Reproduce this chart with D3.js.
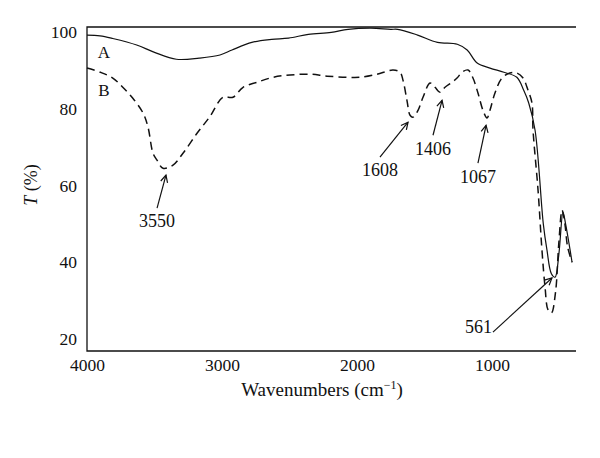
<!DOCTYPE html>
<html>
<head>
<meta charset="utf-8">
<script src="https://cdn.jsdelivr.net/npm/d3@7"></script>
<style>
  body { margin: 0; background: #fff; }
  svg { font-family: "Liberation Serif", "DejaVu Serif", serif; }
</style>
</head>
<body>
<div id="chart"></div>
<script>
// Spectrum A (solid) - wavenumber (cm-1) and transmittance (%)
const waveA = [4000, 3904, 3809, 3632, 3500, 3338, 3169, 3015, 2926, 2779, 2632, 2507, 2360, 2191, 2066, 1897,
  1750, 1699, 1551, 1404, 1257, 1184, 1110, 1015, 912, 816, 765, 728, 681, 620, 593, 560, 533, 505, 474, 455, 430, 407];
const transA = [99.2, 99.0, 98.3, 96.6, 94.7, 92.9, 93.2, 94.0, 95.3, 97.3, 98.1, 98.4, 99.4, 99.9, 100.7, 101.0,
  100.7, 100.7, 99.2, 97.3, 96.8, 95.3, 91.9, 90.6, 89.5, 88.2, 84.8, 81.5, 74.4, 50, 43.2, 37, 36.1, 42, 53, 50, 45, 40];

// Spectrum B (dashed)
const waveB = [4000, 3900, 3809, 3735, 3662, 3585, 3548, 3511, 3481, 3437, 3363, 3289, 3185, 3089, 2993, 2919,
  2844, 2741, 2622, 2496, 2348, 2222, 2074, 1978, 1852, 1733, 1681, 1659, 1630, 1607, 1585, 1548, 1511, 1459,
  1422, 1385, 1348, 1296, 1259, 1222, 1178, 1141, 1104, 1067, 1037, 1015, 978, 926, 867, 815, 770, 733, 704,
  696, 659, 630, 607, 585, 560, 530, 505, 481, 460, 440, 407];
const transB = [90.6, 89.5, 88.0, 85.6, 82.8, 78.9, 75.2, 68.4, 66.6, 64.5, 65.3, 68.4, 73.6, 78.0, 83.0, 83.0,
  85.6, 86.9, 88.2, 88.8, 89.0, 88.5, 88.2, 88.2, 89.0, 90.1, 89.5, 87.4, 82.2, 78.3, 77.8, 79.6, 83.0, 86.7,
  85.6, 84.3, 85.6, 86.9, 88.0, 89.5, 90.1, 88.0, 84.1, 79.6, 77.6, 79.6, 84.1, 88.0, 89.3, 89.3, 88.0, 84.8, 81.5,
  74.4, 58.8, 43.2, 33.5, 27.6, 26.8, 32, 45, 53.6, 50, 44, 40];

const xTicks = [4000, 3000, 2000, 1000];
const yTicks = [20, 40, 60, 80, 100];

// Curve names and where they sit
const seriesNames = ['A', 'B'];
const nameWave = [3875, 3875];
const nameT = [94.7, 84.8];

// Peak annotations: label, arrow tail and tip in data units
const peakLabels = ['3550', '1608', '1406', '1067', '561'];
const tailWave = [3481, 1830, 1437, 1104, 993];
const tailT = [54.1, 67.4, 73.1, 65.8, 21.8];
const tipWave = [3415, 1622, 1370, 1044, 556];
const tipT = [62.7, 76.5, 82.2, 75.7, 35.9];

const width = 600, height = 458;
const plot = { left: 87, right: 576, top: 27, bottom: 351 };

const svg = d3.select('#chart').append('svg')
  .attr('width', width)
  .attr('height', height);

const x = d3.scaleLinear().domain([4000, 400]).range([87, 573]);
const y = d3.scaleLinear().domain([20, 100]).range([339, 32]);

// Frame: left, bottom and top lines
svg.append('path')
  .attr('d', `M${plot.right},${plot.top}H${plot.left}V${plot.bottom}H${plot.right}`)
  .attr('fill', 'none')
  .attr('stroke', '#111')
  .attr('stroke-width', 1.3);

// Axes (labels only)
const xAxis = svg.append('g')
  .attr('transform', `translate(0,${plot.bottom})`)
  .call(d3.axisBottom(x).tickValues(xTicks).tickSize(0).tickPadding(8).tickFormat(d3.format('d')));
const yAxis = svg.append('g')
  .attr('transform', `translate(${plot.left},0)`)
  .call(d3.axisLeft(y).tickValues(yTicks).tickSize(0).tickPadding(10));
[xAxis, yAxis].forEach(g => {
  g.select('.domain').remove();
  g.selectAll('text')
    .attr('fill', '#111')
    .style('font-family', '"Liberation Serif", serif')
    .style('font-size', '17.5px');
});

// Axis titles
const xt = svg.append('text')
  .attr('x', 322)
  .attr('y', 396)
  .attr('text-anchor', 'middle')
  .attr('fill', '#111')
  .style('font-size', '19px');
xt.append('tspan').text('Wavenumbers (cm');
xt.append('tspan').attr('dy', -7).style('font-size', '12px').text('\u22121');
xt.append('tspan').attr('dy', 7).text(')');

const yt = svg.append('text')
  .attr('transform', 'translate(37,185) rotate(-90)')
  .attr('text-anchor', 'middle')
  .attr('fill', '#111')
  .style('font-size', '18px');
yt.append('tspan').style('font-style', 'italic').text('T');
yt.append('tspan').text(' (%)');

// Spectra
const line = d3.line()
  .x(d => x(d[0]))
  .y(d => y(d[1]))
  .curve(d3.curveCatmullRom.alpha(0.5));

svg.append('path')
  .datum(d3.zip(waveA, transA))
  .attr('d', line)
  .attr('fill', 'none')
  .attr('stroke', '#111')
  .attr('stroke-width', 1.2);

svg.append('path')
  .datum(d3.zip(waveB, transB))
  .attr('d', line)
  .attr('fill', 'none')
  .attr('stroke', '#111')
  .attr('stroke-width', 1.5)
  .attr('stroke-dasharray', '8,5');

// Curve names
svg.selectAll('.series-name')
  .data(seriesNames)
  .join('text')
  .attr('class', 'series-name')
  .attr('x', (d, i) => x(nameWave[i]))
  .attr('y', (d, i) => y(nameT[i]))
  .attr('dy', '0.35em')
  .attr('text-anchor', 'middle')
  .attr('fill', '#111')
  .style('font-size', '17px')
  .text(d => d);

// Arrowhead marker
svg.append('defs').append('marker')
  .attr('id', 'arrow')
  .attr('markerUnits', 'userSpaceOnUse')
  .attr('viewBox', '-8 -5 10 10')
  .attr('markerWidth', 10)
  .attr('markerHeight', 10)
  .attr('refX', 0)
  .attr('refY', 0)
  .attr('orient', 'auto')
  .append('path')
  .attr('d', 'M-7,-3.5L0,0L-7,3.5')
  .attr('fill', 'none')
  .attr('stroke', '#111')
  .attr('stroke-width', 1.2);

const peaks = peakLabels.map((label, i) => ({
  label, x0: x(tailWave[i]), y0: y(tailT[i]), x1: x(tipWave[i]), y1: y(tipT[i]), side: i === 4
}));

svg.selectAll('.peak-arrow')
  .data(peaks)
  .join('line')
  .attr('class', 'peak-arrow')
  .attr('x1', d => d.x0).attr('y1', d => d.y0)
  .attr('x2', d => d.x1).attr('y2', d => d.y1)
  .attr('stroke', '#111')
  .attr('stroke-width', 1.2)
  .attr('marker-end', 'url(#arrow)');

svg.selectAll('.peak-label')
  .data(peaks)
  .join('text')
  .attr('class', 'peak-label')
  .attr('x', d => d.side ? d.x0 - 1 : d.x0)
  .attr('y', d => d.side ? d.y0 - 5 : d.y0 + 13)
  .attr('dy', '0.35em')
  .attr('text-anchor', d => d.side ? 'end' : 'middle')
  .attr('fill', '#111')
  .style('font-size', '18px')
  .text(d => d.label);
</script>
</body>
</html>
